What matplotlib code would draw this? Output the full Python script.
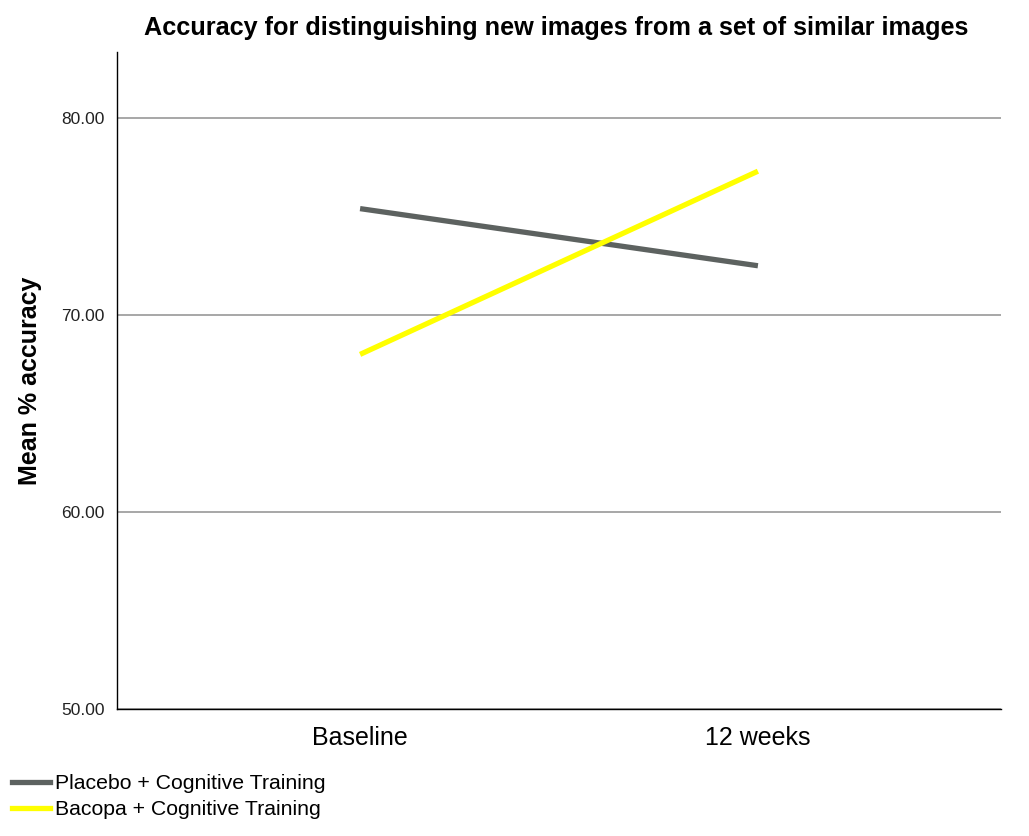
import matplotlib
matplotlib.use("Agg")
import matplotlib.pyplot as plt
from matplotlib.lines import Line2D

plt.rcParams['font.family'] = ['Liberation Sans', 'DejaVu Sans']

timepoints = ['Baseline', '12 weeks']
placebo = [75.4, 72.5]
bacopa = [68.0, 77.3]
series_names = ['Placebo + Cognitive Training', 'Bacopa + Cognitive Training']
y_ticks = [50, 60, 70, 80]


def main():
    fig = plt.figure(figsize=(10.29, 8.36), dpi=100)
    ax = fig.add_axes([0.1137, 0.1519, 0.8591, 0.7859])

    x = list(range(len(timepoints)))
    grey = '#5d6260'
    yellow = '#ffff00'
    ax.plot(x, placebo, color=grey, linewidth=3.8, solid_capstyle='butt', zorder=3)
    ax.plot(x, bacopa, color=yellow, linewidth=3.8, solid_capstyle='butt', zorder=3)

    ax.set_xlim(-0.611, 1.611)
    ax.set_ylim(50, 83.35)
    ax.set_yticks(y_ticks)
    ax.set_yticklabels(['%.2f' % v for v in y_ticks], fontsize=12.5, color='#222222')
    ax.set_xticks(x)
    ax.set_xticklabels(timepoints, fontsize=18)
    ax.tick_params(axis='y', length=0, pad=9)
    ax.tick_params(axis='x', length=0, pad=12)

    # horizontal grid lines only
    ax.grid(True, axis='y', color='#a0a0a0', linewidth=1.3)
    ax.set_axisbelow(True)
    ax.spines['top'].set_visible(False)
    ax.spines['right'].set_visible(False)
    for s in ('left', 'bottom'):
        ax.spines[s].set_color('black')
        ax.spines[s].set_linewidth(1.0)

    ax.set_ylabel('Mean % accuracy', fontsize=18, fontweight='bold', labelpad=14)
    fig.text(0.5403, 0.966, 'Accuracy for distinguishing new images from a set of similar images',
             ha='center', va='center', fontsize=18.2, fontweight='bold')

    handles = [Line2D([0], [0], color=grey, linewidth=3.8),
               Line2D([0], [0], color=yellow, linewidth=3.8)]
    fig.legend(handles, series_names, loc='upper left', bbox_to_anchor=(0.002, 0.0854),
               frameon=False, fontsize=15.3, handlelength=1.8, handletextpad=0.25,
               labelspacing=0.34, borderaxespad=0, borderpad=0.45)

    fig.savefig('out.png', dpi=100)


if __name__ == "__main__":
    main()
